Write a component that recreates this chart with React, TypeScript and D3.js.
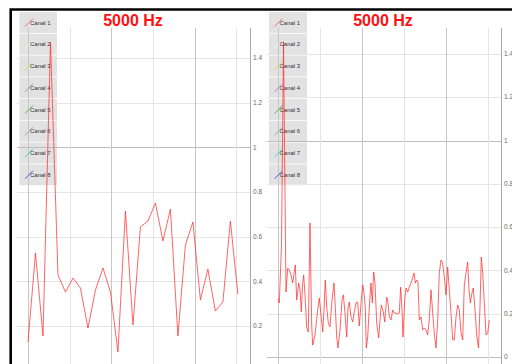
import React from "react";
import * as d3 from "d3";

// Amplitude traces for channel 1 at 5000 Hz (time in ms, amplitude in V)
const TITLE = "5000 Hz";
const channels = ["Canal 1", "Canal 2", "Canal 3", "Canal 4", "Canal 5", "Canal 6", "Canal 7", "Canal 8"];
const channelColors = ["#ff7070", "#f4f4f4", "#e6dc50", "#c07cc8", "#3cc43c", "#a8a8a8", "#40d4d4", "#5858e0"];

const yTicks = [0, 0.2, 0.4, 0.6, 0.8, 1, 1.2, 1.4];
const xTicks = [0, 42, 84, 126, 168, 210];

// Left trace: uniform sampling
const LEFT_STEP = 7.55;
const leftValues = [
  0.129, 0.527, 0.155, 1.472, 0.429, 0.352, 0.415, 0.37, 0.191, 0.361,
  0.46, 0.352, 0.084, 0.715, 0.205, 0.644, 0.67, 0.751, 0.581, 0.724,
  0.155, 0.563, 0.666, 0.317, 0.455, 0.267, 0.308, 0.67, 0.343,
];

// Right trace: [time, amplitude]
const rightSeries: [number, number][] = [
  [0, 0.268], [1.3, 0.25], [3.5, 0.518], [5.5, 1.456], [8, 0.3], [9.7, 0.411], [11.3, 0.402],
  [13, 0.379], [14.7, 0.342], [16.3, 0.393], [17.3, 0.425], [18.7, 0.263], [20.7, 0.342],
  [22, 0.31], [23.3, 0.208], [24.5, 0.333], [25.7, 0.379], [27.3, 0.263], [28.7, 0.134],
  [30.3, 0.116], [32, 0.619], [33.7, 0.148], [34.7, 0.055], [37, 0.102], [39.7, 0.217],
  [41.3, 0.273], [43, 0.194], [44.7, 0.116], [46, 0.217], [47.3, 0.356], [48.7, 0.231],
  [50.3, 0.157], [52, 0.139], [54, 0.263], [56, 0.342], [57.3, 0.231], [58.7, 0.092],
  [60, 0.042], [62, 0.125], [64, 0.263], [65.3, 0.287], [67, 0.203], [68.7, 0.092],
  [70, 0.226], [71.3, 0.254], [73, 0.185], [74.7, 0.162], [76.3, 0.208], [78, 0.25],
  [79.7, 0.254], [81.3, 0.143], [83.3, 0.263], [84.7, 0.333], [86, 0.296], [87.3, 0.226],
  [88.3, 0.042], [89.7, 0.092], [91.3, 0.231], [93, 0.342], [94.3, 0.25], [95.7, 0.393],
  [97, 0.342], [98.7, 0.157], [100.7, 0.088], [102, 0.171], [103.3, 0.24], [105.3, 0.208],
  [106.7, 0.162], [108.7, 0.277], [110, 0.25], [111.3, 0.185], [113, 0.171], [114.7, 0.217],
  [116.3, 0.203], [118, 0.203], [119.7, 0.199], [121.3, 0.203], [122.7, 0.323], [124, 0.217],
  [125, 0.092], [126.7, 0.263], [128, 0.319], [129.7, 0.3], [131.3, 0.323], [133, 0.342],
  [134.7, 0.365], [136, 0.388], [137.3, 0.342], [138.7, 0.356], [140, 0.347], [141.3, 0.171],
  [143, 0.185], [144.7, 0.125], [146.3, 0.134], [148, 0.125], [149.7, 0.102], [151.3, 0.171],
  [153, 0.31], [154.7, 0.203], [156.3, 0.111], [158, 0.042], [159.7, 0.171], [161.3, 0.388],
  [163, 0.448], [164.7, 0.434], [166.3, 0.37], [168, 0.287], [169.7, 0.416], [171.3, 0.31],
  [173, 0.203], [174.7, 0.079], [176.3, 0.079], [178, 0.185], [179.7, 0.24], [181.3, 0.217],
  [183, 0.111], [184.7, 0.079], [186.3, 0.333], [188, 0.388], [189.7, 0.439], [191, 0.31],
  [192.3, 0.25], [194, 0.296], [195.3, 0.319], [197, 0.217], [198.7, 0.102], [200.5, 0.042],
  [202, 0.231], [203.3, 0.462], [204.7, 0.388], [206.3, 0.25], [208, 0.102], [209.7, 0.111],
  [211.3, 0.171],
];

type PanelProps = {
  data: [number, number][];
  xMax: number;
  x0: number;
  x1: number;
  yZero: number;
  yTop: number;
  plotTop: number;
  gridLeft: number;
  legendX: number;
  legendW: number;
  titleX: number;
  clipId: string;
};

function Panel(p: PanelProps) {
  const x = d3.scaleLinear().domain([0, p.xMax]).range([p.x0, p.x1]);
  const y = d3.scaleLinear().domain([0, 1.4]).range([p.yZero, p.yTop]);
  const line = d3
    .line<[number, number]>()
    .x((d) => x(d[0]))
    .y((d) => y(d[1]));
  const bottom = 364;
  const itemH = 21.75;
  const legendTop = 12;
  const font = "'Liberation Sans', Arial, sans-serif";

  return (
    <g>
      {/* legend backgrounds */}
      {channels.map((c, i) => (
        <rect
          key={"lb" + c}
          x={p.legendX}
          y={legendTop + i * itemH}
          width={p.legendW}
          height={itemH - 0.8}
          fill="#e2e2e2"
        />
      ))}
      {/* horizontal grid */}
      {yTicks.map((t) => {
        const yy = Math.round(y(t)) + 0.5;
        if (yy > bottom) return null;
        const strong = t === 0 || t === 1;
        return (
          <line
            key={"h" + t}
            x1={p.gridLeft}
            x2={p.x1}
            y1={yy}
            y2={yy}
            stroke={strong ? "#bdbdbd" : "#e6e6e6"}
            strokeWidth={1}
          />
        );
      })}
      {/* vertical grid */}
      {xTicks.map((t, i) => {
        const xx = Math.round(x(t)) + 0.5;
        return (
          <line
            key={"v" + t}
            x1={xx}
            x2={xx}
            y1={p.plotTop}
            y2={bottom}
            stroke={i % 2 === 0 ? "#c6c6c6" : "#e4e4e4"}
            strokeWidth={1}
          />
        );
      })}
      {/* right axis */}
      <line
        x1={Math.round(p.x1) + 0.5}
        x2={Math.round(p.x1) + 0.5}
        y1={p.plotTop}
        y2={bottom}
        stroke="#a8a8a8"
        strokeWidth={1}
      />
      {yTicks.map((t) => {
        const yy = y(t);
        if (yy > bottom - 2) return null;
        return (
          <text
            key={"yl" + t}
            x={p.x1 + 3}
            y={yy + 2.2}
            fontSize={6.5}
            fill="#666"
            fontFamily={font}
          >
            {d3.format("")(t)}
          </text>
        );
      })}
      {/* legend labels and swatches */}
      {channels.map((c, i) => {
        const cy = legendTop + i * itemH + 10.5;
        return (
          <g key={"li" + c}>
            <line
              x1={p.legendX + 5.5}
              y1={cy + 4}
              x2={p.legendX + 13.5}
              y2={cy - 4}
              stroke={channelColors[i]}
              strokeWidth={1}
            />
            <text
              x={p.legendX + 10.5}
              y={cy + 2}
              fontSize={6}
              fill="#333"
              fontFamily={font}
            >
              {c}
            </text>
          </g>
        );
      })}
      {/* trace */}
      <path
        d={line(p.data) || ""}
        fill="none"
        stroke="#ff2a2a"
        strokeOpacity={0.72}
        strokeWidth={1}
        strokeLinejoin="round"
      />
      {/* title */}
      <text
        x={p.titleX}
        y={25.5}
        textAnchor="middle"
        fontSize={16}
        fontWeight="bold"
        fill="#ff1010"
        fontFamily={font}
      >
        {TITLE}
      </text>
    </g>
  );
}

export default function App() {
  const leftData: [number, number][] = leftValues.map((v, i) => [i * LEFT_STEP, v]);
  return (
    <svg
      width={512}
      height={364}
      style={{ position: "absolute", left: 0, top: 0, background: "#fff" }}
    >
      <rect x={0} y={0} width={512} height={364} fill="#fff" />
      <Panel
        data={leftData}
        xMax={223.6}
        x0={28}
        x1={250}
        yZero={370.7}
        yTop={58.1}
        plotTop={28}
        gridLeft={17}
        legendX={19.5}
        legendW={37.5}
        titleX={133}
        clipId="l"
      />
      <Panel
        data={rightSeries}
        xMax={223}
        x0={278}
        x1={501}
        yZero={357}
        yTop={54}
        plotTop={28}
        gridLeft={267}
        legendX={269}
        legendW={38}
        titleX={383}
        clipId="r"
      />
      {/* outer frame */}
      <path d="M10.7,364 L10.7,9.5 L512,9.5" fill="none" stroke="#000" strokeWidth={2.6} />
    </svg>
  );
}
